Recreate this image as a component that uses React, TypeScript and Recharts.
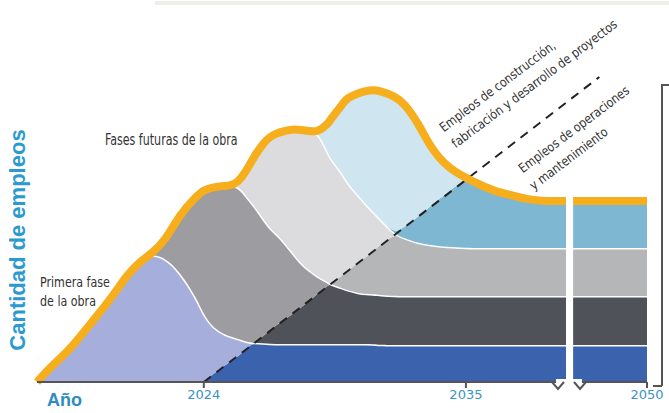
import React from "react";
import { ComposedChart, Area, Line, XAxis, YAxis, ReferenceLine, ReferenceArea } from "recharts";

// x position (years; the part after the axis break is squeezed, last point is shown as 2050)
const years = [
  2017.0, 2017.6, 2018.3, 2019.3, 2020.1, 2020.8, 2021.4, 2021.8, 2022.4, 2023.0,
  2023.7, 2024.0, 2024.4, 2024.9, 2025.3, 2025.6, 2025.8, 2026.1, 2026.5, 2026.8,
  2027.2, 2027.7, 2028.1, 2028.4, 2028.8, 2029.2, 2029.3, 2029.8, 2030.0, 2030.5,
  2030.8, 2031.1, 2031.4, 2032.0, 2032.4, 2033.0, 2033.5, 2034.2, 2035.0, 2035.6,
  2036.3, 2036.9, 2037.5, 2038.1, 2039.2, 2042.6,
];

// phase 1
const om1 = [0,0,0,0,0,0,0,0,0,0, 0,0,8,17,23,29,34,39,39,38, 38,38,38,38,38,38,38,38,38,38, 38,38,37,37,37,37,37,37,37,37, 37,37,37,37,37,37];
const con1 = [0,16,30,60,83,108,122,128,124,110, 84,67,46,30,21,13,6,0,0,0, 0,0,0,0,0,0,0,0,0,0, 0,0,0,0,0,0,0,0,0,0, 0,0,0,0,0,0];
// phase 2
const om2 = [0,0,0,0,0,0,0,0,0,0, 0,0,0,0,0,0,0,0,7,14, 22,29,37,42,51,58,60,56,54,51, 50,50,50,49,49,49,49,49,49,49, 49,49,49,49,49,49];
const con2 = [0,0,0,0,0,0,0,0,18,58, 102,125,141,149,153,150,145,138,117,101, 85,63,43,32,16,4,0,0,0,0, 0,0,0,0,0,0,0,0,0,0, 0,0,0,0,0,0];
// phase 3
const om3 = [0,0,0,0,0,0,0,0,0,0, 0,0,0,0,0,0,0,0,0,0, 0,0,0,0,0,0,0,12,19,30, 37,43,50,62,58,53,51,49,48,48, 48,48,48,48,48,48];
const con3 = [0,0,0,0,0,0,0,0,0,0, 0,0,0,0,0,13,27,48,76,93, 105,123,134,139,145,130,126,103,89,67, 53,39,26,0,0,0,0,0,0,0, 0,0,0,0,0,0];
// phase 4
const om4 = [0,0,0,0,0,0,0,0,0,0, 0,0,0,0,0,0,0,0,0,0, 0,0,0,0,0,0,0,0,0,0, 0,0,0,0,11,26,39,54,70,63, 56,53,49,47,47,47];
const con4 = [0,0,0,0,0,0,0,0,0,0, 0,0,0,0,0,0,0,0,0,0, 0,0,0,0,0,28,38,68,84,103, 113,122,128,138,124,94,59,26,0,0, 0,0,0,0,0,0];
// total jobs (orange outline)
const total = [0,16,30,60,83,108,122,128,142,168, 186,192,195,196,197,205,212,225,239,246, 250,253,252,251,250,258,262,277,284,289, 291,292,291,286,279,259,235,215,204,197, 190,187,183,181,181,181];

const xTicks = [2024, 2035, 2042.6];
const xTickLabels = ["2024", "2035", "2050"];
const dashLine = [{ x: 2024, y: 0 }, { x: 2040.6, y: 305 }];
const axisBreak = [2039.2, 2039.5];

const data = years.map((year, i) => ({
  year,
  om1: om1[i], con1: con1[i],
  om2: om2[i], con2: con2[i],
  om3: om3[i], con3: con3[i],
  om4: om4[i], con4: con4[i],
  total: total[i],
}));

const series = [
  { key: "om1", color: "#3b62ad", line: false },
  { key: "con1", color: "#a6afdb", line: true },
  { key: "om2", color: "#4f5258", line: false },
  { key: "con2", color: "#9c9ca1", line: true },
  { key: "om3", color: "#b4b6b7", line: false },
  { key: "con3", color: "#dcdcde", line: true },
  { key: "om4", color: "#7db7d1", line: false },
  { key: "con4", color: "#cfe5ef", line: true },
];

const narrow = "'DejaVu Sans Condensed', 'Liberation Sans Narrow', sans-serif";

function Rot({ x, y, text }: { x: number; y: number; text: string }) {
  return (
    <div
      style={{
        position: "absolute", left: x, top: y - 13, fontFamily: narrow, fontSize: 13,
        lineHeight: "13px", color: "#333", whiteSpace: "nowrap",
        transformOrigin: "0% 100%", transform: "rotate(-37deg) scaleX(0.94)",
      }}
    >
      {text}
    </div>
  );
}

export default function App() {
  return (
    <div style={{ position: "absolute", left: 0, top: 0, width: 669, height: 413, background: "#fff", overflow: "hidden" }}>
      <div style={{ position: "absolute", left: 155, top: 1, width: 514, height: 4, background: "#efefe9" }} />
      <ComposedChart width={669} height={413} data={data} margin={{ top: 90, right: 22, bottom: 1, left: 37 }}>
        <XAxis
          dataKey="year" type="number" domain={[2017, 2042.6]} ticks={xTicks}
          tickFormatter={(v: number) => xTickLabels[xTicks.indexOf(v)]}
          axisLine={{ stroke: "#555", strokeWidth: 2 }} tickLine={{ stroke: "#555", strokeWidth: 2 }} tickSize={6}
          tick={{ fill: "#3b93c3", fontSize: 13, fontFamily: "DejaVu Sans" }} height={30}
        />
        <YAxis domain={[0, 292]} width={0} tick={false} tickLine={false} axisLine={{ stroke: "#555", strokeWidth: 2 }} />
        {series.map((s) => (
          <Area
            key={s.key} dataKey={s.key} stackId="a" type="basis" fill={s.color} fillOpacity={1}
            stroke={s.line ? "#fff" : "none"} strokeWidth={3} isAnimationActive={false}
          />
        ))}
        <ReferenceLine segment={dashLine} stroke="#222" strokeWidth={2} strokeDasharray="9 7" ifOverflow="visible" />
        <Line dataKey="total" type="basis" stroke="#f6ae1d" strokeWidth={8} dot={false} isAnimationActive={false} />
        <ReferenceArea
          x1={axisBreak[0]} x2={axisBreak[1]} y1={0} y2={200} fill="#fff" fillOpacity={1} stroke="none"
          zIndex={1000}
        />
      </ComposedChart>

      <svg width={669} height={413} style={{ position: "absolute", left: 0, top: 0, pointerEvents: "none" }}>
        <rect x={556} y={379} width={26} height={6} fill="#fff" />
        <polyline points="552,382 558,389 564,382" fill="none" stroke="#555" strokeWidth={2} />
        <polyline points="574,382 580,389 586,382" fill="none" stroke="#555" strokeWidth={2} />
      </svg>

      <div style={{ position: "absolute", left: 661, top: 85, height: 301, borderLeft: "2px solid #555" }} />
      <div style={{ position: "absolute", left: 661, top: 84, width: 8, borderTop: "2px solid #555" }} />
      <div style={{ position: "absolute", left: 653, top: 385, width: 9, borderTop: "2px solid #555" }} />

      <div
        style={{
          position: "absolute", left: 18, top: 240, transform: "translate(-50%, -50%) rotate(-90deg)",
          fontFamily: "'Liberation Sans', Arial, sans-serif", fontWeight: "bold", fontSize: 22,
          color: "#2b9ad0", whiteSpace: "nowrap",
        }}
      >
        Cantidad de empleos
      </div>
      <div style={{ position: "absolute", left: 47, top: 390, fontFamily: "'Liberation Sans', Arial, sans-serif", fontWeight: "bold", fontSize: 18, color: "#2e8bc4" }}>
        Año
      </div>

      <div
        style={{
          position: "absolute", left: 105, top: 131, fontFamily: narrow, fontSize: 15, color: "#333",
          whiteSpace: "nowrap", transformOrigin: "0 0", transform: "scaleX(0.82)",
        }}
      >
        Fases futuras de la obra
      </div>
      <div
        style={{
          position: "absolute", left: 40, top: 273, fontFamily: narrow, fontSize: 14, lineHeight: "19px",
          color: "#333", whiteSpace: "nowrap", transformOrigin: "0 0", transform: "scaleX(0.88)",
        }}
      >
        Primera fase<br />de la obra
      </div>

      <Rot x={445} y={134} text="Empleos de construcción," />
      <Rot x={457} y={150} text="fabricación y desarrollo de proyectos" />
      <Rot x={524} y={175} text="Empleos de operaciones" />
      <Rot x={535} y={192} text="y mantenimiento" />
    </div>
  );
}
